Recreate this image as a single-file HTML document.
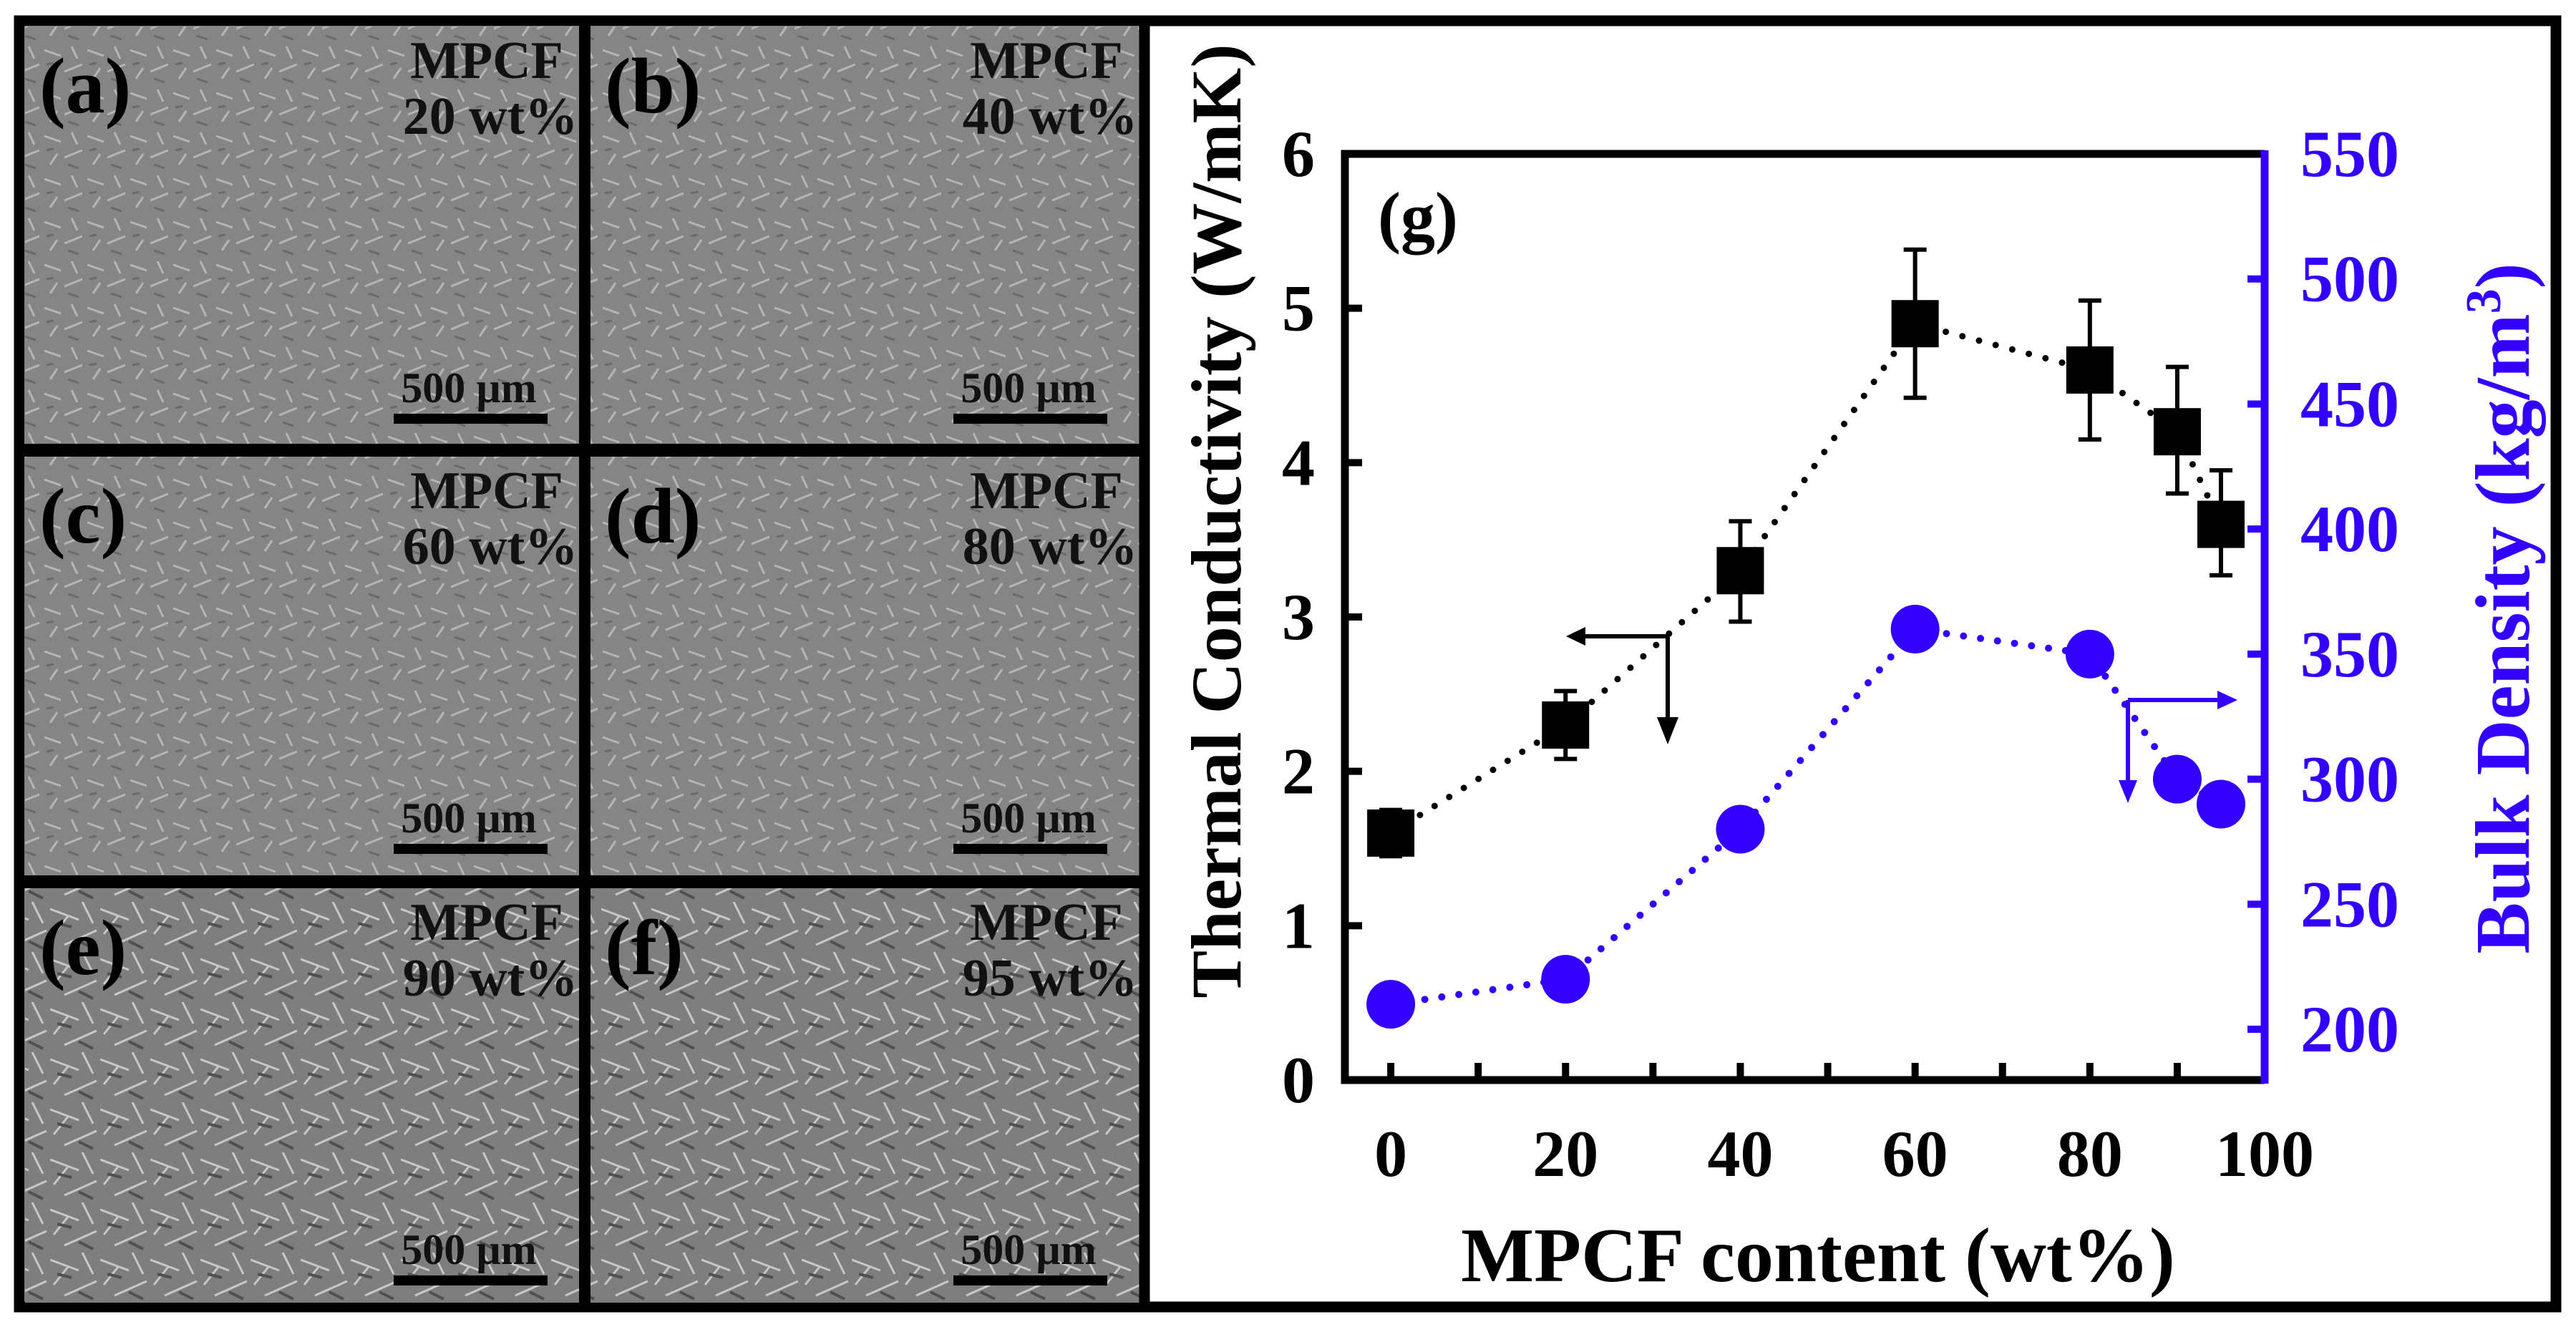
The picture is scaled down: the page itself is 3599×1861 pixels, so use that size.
<!DOCTYPE html>
<html><head><meta charset="utf-8"><style>
html,body{margin:0;padding:0;background:#fff;}
svg{display:block;}
text{font-family:"Liberation Serif",serif;font-weight:bold;}
</style></head><body>
<svg id="fig" width="3599" height="1861" viewBox="0 0 3599 1861" xmlns="http://www.w3.org/2000/svg">
<defs>
<pattern id="sem1" width="60" height="60" patternUnits="userSpaceOnUse">
<rect width="60" height="60" fill="#858585"/>
<path d="M2 10 L25 18 M30 40 L55 30 M10 50 L20 35 M40 5 L48 22" stroke="#b5b5b5" stroke-width="3"/>
<path d="M5 30 L15 28 M35 50 L50 55" stroke="#6a6a6a" stroke-width="3"/>
</pattern>
<pattern id="sem2" width="70" height="70" patternUnits="userSpaceOnUse">
<rect width="70" height="70" fill="#7e7e7e"/>
<path d="M0 10 L40 25 M20 60 L65 40 M5 45 L25 20 M45 0 L60 30" stroke="#c8c8c8" stroke-width="3"/>
<path d="M10 30 L30 35 M40 55 L60 65" stroke="#505050" stroke-width="4"/>
</pattern>
</defs>
<rect x="27" y="29" width="3544" height="1797" fill="none" stroke="#000" stroke-width="15"/>
<g id="sem"></g>
<line x1="1599" y1="29" x2="1599" y2="1826" stroke="#000" stroke-width="15"/>
<g id="chart"></g>
</svg>
<script>
const xCats = [0, 20, 40, 60, 80, 90, 95];
const tcVals = [1.6, 2.3, 3.3, 4.9, 4.6, 4.2, 3.6];
const tcErrLo = [1.45, 2.08, 2.97, 4.42, 4.15, 3.8, 3.27];
const tcErrHi = [1.75, 2.52, 3.62, 5.38, 5.05, 4.62, 3.95];
const densVals = [210, 220, 280, 360, 350, 300, 290];
const xTicks = [0, 20, 40, 60, 80, 100];
const yLeftTicks = [0, 1, 2, 3, 4, 5, 6];
const yRightTicks = [200, 250, 300, 350, 400, 450, 500, 550];
const semLabels = ["(a)", "(b)", "(c)", "(d)", "(e)", "(f)"];
const semContents = ["20 wt%", "40 wt%", "60 wt%", "80 wt%", "90 wt%", "95 wt%"];

const NS = "http://www.w3.org/2000/svg";
function mk(parent, tag, attrs, txt){
  const e = document.createElementNS(NS, tag);
  for (const k in attrs) e.setAttribute(k, attrs[k]);
  if (txt !== undefined) e.textContent = txt;
  parent.appendChild(e);
  return e;
}
const sem = document.getElementById('sem');
const cols = [[35, 810], [825, 1592]];
const rows = [[37, 620], [638, 1223], [1241, 1820]];
for (let i = 0; i < 6; i++) {
  const c = cols[i % 2], r = rows[Math.floor(i / 2)];
  const g = mk(sem, 'g', {});
  
  
  const im = mk(g, 'rect', {x: c[0], y: r[0], width: c[1] - c[0], height: r[1] - r[0], fill: i >= 4 ? 'url(#sem2)' : 'url(#sem1)'});
  
  
  const lb = mk(g, 'text', {x: c[0] + 20, y: r[0] + 120, 'font-size': 110, fill: '#000'}, semLabels[i]);
  
  
  const t1 = mk(g, 'text', {x: c[1] - 130, y: r[0] + 72, 'font-size': 74, fill: '#111', 'text-anchor': 'middle'}, 'MPCF');
  
  
  const t2 = mk(g, 'text', {x: c[1] - 125, y: r[0] + 150, 'font-size': 74, fill: '#111', 'text-anchor': 'middle'}, semContents[i]);
  
  
  const st = mk(g, 'text', {x: c[1] - 155, y: r[0] + 525, 'font-size': 60, fill: '#111', 'text-anchor': 'middle'}, '500 µm');
  
  
  const sb = mk(g, 'rect', {x: c[1] - 260, y: r[0] + 541, width: 215, height: 14, fill: '#000'});
  
  
}
for (const yy of [629, 1232]) {
  const d = mk(sem, 'line', {x1: 27, x2: 1599, y1: yy, y2: yy, stroke: '#000', 'stroke-width': 18});
  
  
}
const vd = mk(sem, 'line', {x1: 817, x2: 817, y1: 29, y2: 1826, stroke: '#000', 'stroke-width': 16});



const ch = document.getElementById('chart');
const L = 1879, R = 3164, T = 215, B = 1509;
const X0 = -5.25, X1 = 100, YL0 = 0, YL1 = 6, YR0 = 179.7, YR1 = 550;
const BLUE = '#3300ff';
const sx = v => L + (v - X0) / (X1 - X0) * (R - L);
const syl = v => B - (v - YL0) / (YL1 - YL0) * (B - T);
const syr = v => B - (v - YR0) / (YR1 - YR0) * (B - T);

for (let v = 0; v <= 100; v += 10) {
  const t = mk(ch, 'line', {x1: sx(v), x2: sx(v), y1: B, y2: B - 24, stroke: '#000', 'stroke-width': 10});
  
  
}
for (const v of xTicks) {
  const t = mk(ch, 'text', {x: sx(v), y: B + 134, 'font-size': 92, 'text-anchor': 'middle', fill: '#000'}, v);
  
  
}
for (const v of yLeftTicks) {
  const tk = mk(ch, 'line', {x1: L, x2: L + 24, y1: syl(v), y2: syl(v), stroke: '#000', 'stroke-width': 10});
  
  
  const t = mk(ch, 'text', {x: L - 42, y: syl(v) + 31, 'font-size': 92, 'text-anchor': 'end', fill: '#000'}, v);
  
  
}
for (const v of yRightTicks) {
  const tk = mk(ch, 'line', {x1: R, x2: R - 24, y1: syr(v), y2: syr(v), stroke: BLUE, 'stroke-width': 10});
  
  
  const t = mk(ch, 'text', {x: R + 50, y: syr(v) + 31, 'font-size': 92, fill: BLUE}, v);
  
  
}
const ax1 = mk(ch, 'path', {d: `M${R} ${T} L${L} ${T} L${L} ${B} L${R} ${B}`, fill: 'none', stroke: '#000', 'stroke-width': 11});


const ax2 = mk(ch, 'line', {x1: R, x2: R, y1: T - 5, y2: B + 5, stroke: BLUE, 'stroke-width': 11});



const tcLine = mk(ch, 'polyline', {points: xCats.map((x, i) => sx(x) + ',' + syl(tcVals[i])).join(' '), fill: 'none', stroke: '#000', 'stroke-width': 9, 'stroke-dasharray': '0 24', 'stroke-linecap': 'round'});


const dLine = mk(ch, 'polyline', {points: xCats.map((x, i) => sx(x) + ',' + syr(densVals[i])).join(' '), fill: 'none', stroke: BLUE, 'stroke-width': 10, 'stroke-dasharray': '0 24', 'stroke-linecap': 'round'});



xCats.forEach((x, i) => {
  const cx = sx(x);
  const e = mk(ch, 'path', {d: `M${cx} ${syl(tcErrLo[i])} L${cx} ${syl(tcErrHi[i])} M${cx - 16} ${syl(tcErrLo[i])} L${cx + 16} ${syl(tcErrLo[i])} M${cx - 16} ${syl(tcErrHi[i])} L${cx + 16} ${syl(tcErrHi[i])}`, stroke: '#000', 'stroke-width': 6, fill: 'none'});
  
  
  const s = mk(ch, 'rect', {x: cx - 33, y: syl(tcVals[i]) - 33, width: 66, height: 66, fill: '#000'});
  
  
  const c = mk(ch, 'circle', {cx: cx, cy: syr(densVals[i]), r: 34, fill: BLUE});
  
  
});

const a1 = mk(ch, 'path', {d: 'M2330 889 L2210 889 M2330 889 L2330 1010', stroke: '#000', 'stroke-width': 6, fill: 'none'});


const a1h = mk(ch, 'path', {d: 'M2188 889 L2215 876 L2215 902 Z M2330 1040 L2315 1002 L2345 1002 Z', fill: '#000'});


const a2 = mk(ch, 'path', {d: 'M2973 978 L3100 978 M2973 978 L2973 1095', stroke: BLUE, 'stroke-width': 6, fill: 'none'});


const a2h = mk(ch, 'path', {d: 'M3126 978 L3098 965 L3098 991 Z M2973 1122 L2960 1090 L2986 1090 Z', fill: BLUE});



const g = mk(ch, 'text', {x: 1925, y: 335, 'font-size': 96, fill: '#000'}, '(g)');


const xt = mk(ch, 'text', {x: 2540, y: 1790, 'font-size': 108, 'text-anchor': 'middle', fill: '#000'}, 'MPCF content (wt%)');


const yt = mk(ch, 'text', {x: 0, y: 0, 'font-size': 100, 'text-anchor': 'middle', fill: '#000', transform: 'translate(1733 728) rotate(-90)'}, 'Thermal Conductivity (W/mK)');


const yr = mk(ch, 'text', {x: 0, y: 0, 'font-size': 108, 'text-anchor': 'middle', fill: BLUE, transform: 'translate(3533 850) rotate(-90)'});


mk(yr, 'tspan', {}, 'Bulk Density (kg/m');
mk(yr, 'tspan', {dy: -40, 'font-size': 70}, '3');
mk(yr, 'tspan', {dy: 40}, ')');
</script>
</body></html>
